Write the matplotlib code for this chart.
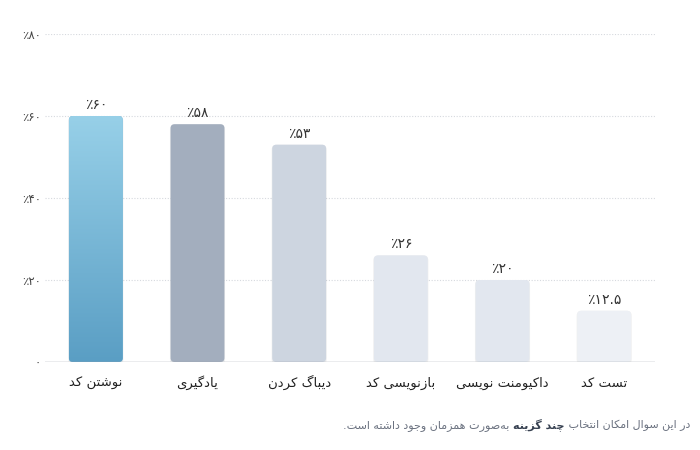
import numpy as np
import matplotlib
matplotlib.use("Agg")
import matplotlib.pyplot as plt
from matplotlib.patches import FancyBboxPatch

categories = ["نوشتن کد", "یادگیری", "دیباگ کردن", "بازنویسی کد", "داکیومنت نویسی", "تست کد"]
values = [60, 58, 53, 26, 20, 12.5]
bar_colors = ["#78b9da", "#a3aebe", "#cdd5e0", "#e2e7ef", "#e2e7ef", "#edf0f5"]
y_ticks = [0, 20, 40, 60, 80]
footer = ["در این سوال امکان انتخاب ", "چند گزینه", " به\u200cصورت همزمان وجود داشته است."]

# matplotlib has no arabic shaping, so pick contextual forms by hand
# isolated, final, initial, medial
FORMS = {
    "ا": ("\uFE8D", "\uFE8E", None, None),
    "ب": ("\uFE8F", "\uFE90", "\uFE91", "\uFE92"),
    "ت": ("\uFE95", "\uFE96", "\uFE97", "\uFE98"),
    "ج": ("\uFE9D", "\uFE9E", "\uFE9F", "\uFEA0"),
    "خ": ("\uFEA5", "\uFEA6", "\uFEA7", "\uFEA8"),
    "د": ("\uFEA9", "\uFEAA", None, None),
    "ر": ("\uFEAD", "\uFEAE", None, None),
    "ز": ("\uFEAF", "\uFEB0", None, None),
    "س": ("\uFEB1", "\uFEB2", "\uFEB3", "\uFEB4"),
    "ش": ("\uFEB5", "\uFEB6", "\uFEB7", "\uFEB8"),
    "ص": ("\uFEB9", "\uFEBA", "\uFEBB", "\uFEBC"),
    "ل": ("\uFEDD", "\uFEDE", "\uFEDF", "\uFEE0"),
    "م": ("\uFEE1", "\uFEE2", "\uFEE3", "\uFEE4"),
    "ن": ("\uFEE5", "\uFEE6", "\uFEE7", "\uFEE8"),
    "ه": ("\uFEE9", "\uFEEA", "\uFEEB", "\uFEEC"),
    "و": ("\uFEED", "\uFEEE", None, None),
    "ک": ("\uFB8E", "\uFB8F", "\uFB90", "\uFB91"),
    "گ": ("\uFB92", "\uFB93", "\uFB94", "\uFB95"),
    "ی": ("\uFBFC", "\uFBFD", "\uFBFE", "\uFBFF"),
    "چ": ("\uFB7A", "\uFB7B", "\uFB7C", "\uFB7D"),
}


def fa(text):
    out = []
    for i, c in enumerate(text):
        if c not in FORMS:
            out.append(c)
            continue
        prev = text[i - 1] if i > 0 else ""
        nxt = text[i + 1] if i + 1 < len(text) else ""
        jp = prev in FORMS and FORMS[prev][2] is not None
        jn = FORMS[c][2] is not None and nxt in FORMS
        iso, fin, ini, med = FORMS[c]
        out.append(med if jp and jn else fin if jp else ini if jn else iso)
    return "".join(out).replace("\u200c", "")[::-1]


DIGITS = str.maketrans("0123456789", "۰۱۲۳۴۵۶۷۸۹")


def pct(v):
    s = ("%g" % v).translate(DIGITS)
    return s if v == 0 else "٪" + s


plt.rcParams["font.family"] = ["DejaVu Sans"]

fig = plt.figure(figsize=(7, 4.5), dpi=100)
ax = fig.add_axes([45 / 700, 88 / 450, 610 / 700, 328 / 450])
ax.set_xlim(-0.5, len(categories) - 0.5)
ax.set_ylim(0, 80)

for t in y_ticks[1:]:
    ax.axhline(t, color="#d6d9de", lw=0.8, ls=(0, (1, 1.5)), zorder=0)
ax.axhline(0, color="#9aa1ab", lw=1.0, zorder=3)

x = np.arange(len(categories))
width = 0.53
bars = ax.bar(x, values, width=width, color=bar_colors)

# swap plain bars for rounded ones
px_x = 610 / (len(categories))
px_y = 328 / 80
aspect = px_x / px_y
for i, b in enumerate(bars):
    b.set_visible(False)
    shadow = FancyBboxPatch((b.get_x() - 0.006, -0.6), width + 0.012, values[i] + 0.6,
                            boxstyle="round,pad=0,rounding_size=0.05",
                            mutation_aspect=aspect, fc="#000000", ec="none",
                            alpha=0.06, zorder=1)
    ax.add_patch(shadow)
    p = FancyBboxPatch((b.get_x(), 0), width, values[i],
                       boxstyle="round,pad=0,rounding_size=0.04",
                       mutation_aspect=aspect, fc=bar_colors[i], ec="none", zorder=2)
    ax.add_patch(p)
    if i == 0:
        grad = np.linspace(0, 1, 256).reshape(-1, 1)
        cmap = matplotlib.colors.LinearSegmentedColormap.from_list("g", ["#5a9ec4", "#97d0e8"])
        im = ax.imshow(grad, extent=(b.get_x(), b.get_x() + width, 0, values[i]),
                       origin="lower", cmap=cmap, aspect="auto", zorder=2)
        im.set_clip_path(p)
    ax.annotate(pct(values[i]), (x[i], values[i]), xytext=(0, 5), textcoords="offset points",
                ha="center", va="baseline", fontsize=10, color="#333333")

ax.set_aspect("auto")
ax.set_xlim(-0.5, len(categories) - 0.5)
ax.set_ylim(0, 80)
ax.set_xticks(x)
ax.set_xticklabels([fa(c) for c in categories], fontsize=9.5, color="#222222")
for lab in ax.get_xticklabels():
    lab.set_verticalalignment("baseline")
ax.set_yticks(y_ticks)
ax.set_yticklabels([pct(t) for t in y_ticks], fontsize=8.5, color="#444444")
ax.tick_params(axis="x", length=0, pad=18)
ax.tick_params(axis="y", length=0, pad=3)
for s in ax.spines.values():
    s.set_visible(False)

# footer, placed right to left in pieces
fig.canvas.draw()
r = fig.canvas.get_renderer()
right = 690
styles = [("normal", "#6b7280"), ("bold", "#374151"), ("normal", "#6b7280")]
for part, (w, col) in zip(footer, styles):
    t = fig.text(right / 700, 1 - 428 / 450, fa(part), ha="right", va="baseline",
                 fontsize=8, fontweight=w, color=col)
    right = t.get_window_extent(r).x0

fig.savefig("out.png", dpi=100)
